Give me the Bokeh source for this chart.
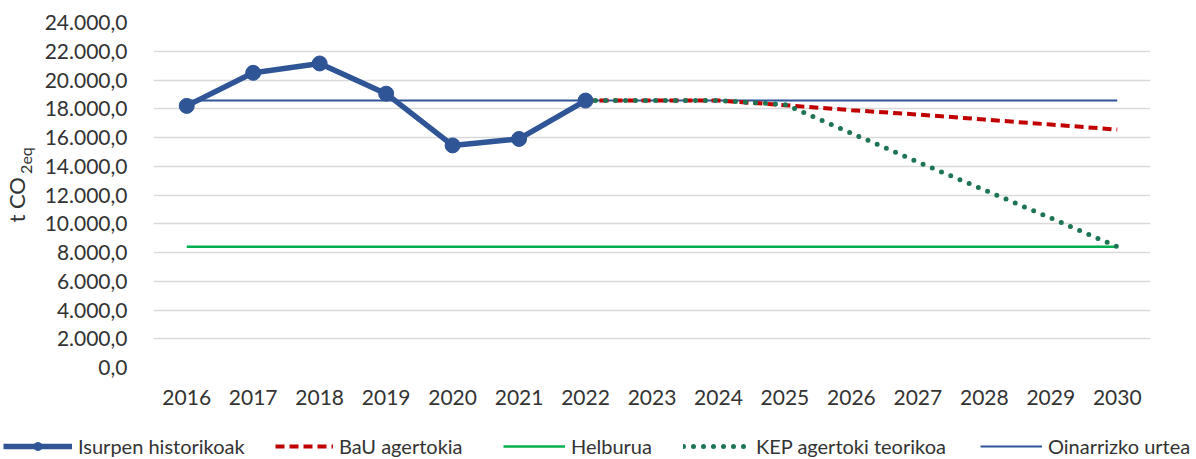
from bokeh.plotting import figure
from bokeh.layouts import column, row
from bokeh.models import Range1d, FixedTicker, Legend, LegendItem, Label
from bokeh.embed import file_html
from bokeh.resources import INLINE
import math

# ---- data ----
years = list(range(2016, 2031))
x_tick_labels = [str(y) for y in years]

hist_years = [2016, 2017, 2018, 2019, 2020, 2021, 2022]
hist_values = [18200, 20500, 21150, 19050, 15450, 15900, 18570]

bau_years = [2022, 2023, 2024, 2025, 2026, 2027, 2028, 2029, 2030]
bau_values = [18570, 18570, 18570, 18250, 17900, 17600, 17250, 16900, 16550]

kep_years = [2022, 2023, 2024, 2025, 2026, 2027, 2028, 2029, 2030]
kep_values = [18570, 18570, 18570, 18300, 16300, 14300, 12350, 10400, 8400]

target_values = [8400] * len(years)
base_values = [18570] * len(years)

y_ticks = [0, 2000, 4000, 6000, 8000, 10000, 12000, 14000, 16000, 18000, 20000, 22000, 24000]
y_tick_labels = ["0,0", "2.000,0", "4.000,0", "6.000,0", "8.000,0", "10.000,0", "12.000,0",
                 "14.000,0", "16.000,0", "18.000,0", "20.000,0", "22.000,0", "24.000,0"]

series_names = ["Isurpen historikoak", "BaU agertokia", "Helburua",
                "KEP agertoki teorikoa", "Oinarrizko urtea"]

FONT = "Lato"
TXT = "#333333"

# styles
STY_HIST = dict(line_color="#2F5597", line_width=5.5, line_join="round")
STY_HIST_M = dict(size=15, fill_color="#2F5597", line_color="#2F5597")
STY_BAU = dict(line_color="#C00000", line_width=4, line_dash="9 5")
STY_TGT = dict(line_color="#00B050", line_width=2.5)
STY_KEP = dict(line_color="#1E7553", line_width=5, line_dash="0 10", line_cap="round")
STY_BASE = dict(line_color="#2F5597", line_width=2)

LEFT_W = 40
MAIN_H = 433
LEG_H = 26

# ---------------- main chart ----------------
p = figure(width=1196 - LEFT_W, height=MAIN_H, output_backend="svg", toolbar_location=None,
           x_range=Range1d(2015.5, 2030.5), y_range=Range1d(0, 24000),
           min_border_left=153 - LEFT_W, min_border_right=46, min_border_top=22,
           min_border_bottom=MAIN_H - 367)
p.outline_line_color = None
p.background_fill_color = "white"
p.xgrid.grid_line_color = None
p.ygrid.grid_line_color = "#d9d9d9"
p.ygrid.grid_line_width = 1.6

p.yaxis.ticker = FixedTicker(ticks=y_ticks)
p.yaxis.major_label_overrides = {t: l for t, l in zip(y_ticks, y_tick_labels)}
p.xaxis.ticker = FixedTicker(ticks=years)
p.xaxis.major_label_overrides = {t: l for t, l in zip(years, x_tick_labels)}
for ax in (p.xaxis, p.yaxis):
    ax.axis_line_color = None
    ax.major_tick_line_color = None
    ax.minor_tick_line_color = None
    ax.major_label_text_font = FONT
    ax.major_label_text_font_size = "21px"
    ax.major_label_text_color = TXT
p.yaxis.major_label_standoff = 20
p.xaxis.major_label_standoff = 16

p.line(years, base_values, **STY_BASE)
p.line(years, target_values, **STY_TGT)
p.line(bau_years, bau_values, **STY_BAU)
p.line(kep_years, kep_values, **STY_KEP)
p.line(hist_years, hist_values, **STY_HIST)
p.scatter(hist_years, hist_values, **STY_HIST_M)

# ---------------- y-axis title (t CO2eq) ----------------
yl = figure(width=LEFT_W, height=MAIN_H, output_backend="svg", toolbar_location=None,
            x_range=Range1d(0, LEFT_W), y_range=Range1d(MAIN_H, 0),
            x_axis_location=None, y_axis_location=None, min_border=0)
yl.outline_line_color = None
yl.xgrid.visible = False
yl.ygrid.visible = False
yl.add_layout(Label(x=16, y=194, text="t CO", angle=math.pi / 2,
                    text_align="right", text_baseline="alphabetic",
                    text_font=FONT, text_font_size="22px", text_color=TXT))
yl.add_layout(Label(x=25, y=190, text="2eq", angle=math.pi / 2,
                    text_align="left", text_baseline="alphabetic",
                    text_font=FONT, text_font_size="16px", text_color=TXT))

# ---------------- legend strip ----------------
# the series are drawn again here only to provide legend samples; the strip's
# ranges keep the lines themselves out of view
lf = figure(width=1196, height=LEG_H, output_backend="svg", toolbar_location=None,
            x_range=Range1d(0, 1), y_range=Range1d(0, 1),
            x_axis_location=None, y_axis_location=None, min_border=0)
lf.outline_line_color = None
lf.xgrid.visible = False
lf.ygrid.visible = False
g_hist = [lf.line(hist_years, hist_values, **STY_HIST),
          lf.scatter(hist_years, hist_values, **STY_HIST_M)]
g_bau = [lf.line(bau_years, bau_values, **STY_BAU)]
g_tgt = [lf.line(years, target_values, **STY_TGT)]
g_kep = [lf.line(kep_years, kep_values, **STY_KEP)]
g_base = [lf.line(years, base_values, **STY_BASE)]

legend_spec = [
    (series_names[0], g_hist, 3, 69),
    (series_names[1], g_bau, 275, 58),
    (series_names[2], g_tgt, 503, 62),
    (series_names[3], g_kep, 683, 67),
    (series_names[4], g_base, 980, 62),
]
for name, rends, lx, gw in legend_spec:
    lf.add_layout(Legend(items=[LegendItem(label=name, renderers=rends)],
                         location=(lx, 1), orientation="horizontal",
                         glyph_width=gw, glyph_height=20, label_height=20,
                         label_standoff=6, padding=0, margin=0, spacing=0,
                         border_line_color=None, background_fill_alpha=0,
                         label_text_font=FONT, label_text_font_size="20px",
                         label_text_color=TXT, label_text_baseline="middle"))

layout = column(row(yl, p, spacing=0), lf, spacing=0)
open("out.html", "w").write(file_html(layout, INLINE))
